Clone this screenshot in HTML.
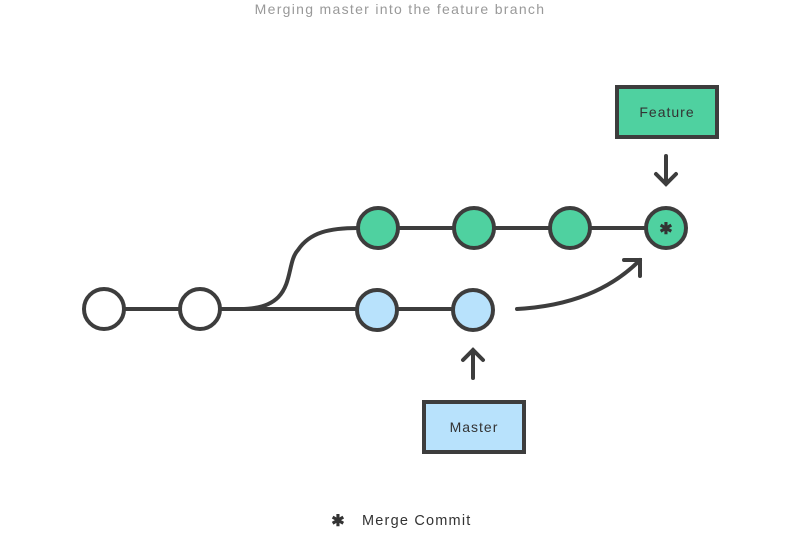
<!DOCTYPE html>
<html><head><style>body{margin:0;background:#fff}svg{display:block}</style></head><body>
<svg width="800" height="536" viewBox="0 0 800 536" xmlns="http://www.w3.org/2000/svg" font-family="Liberation Sans, sans-serif">
<text x="400" y="14" text-anchor="middle" font-size="14" letter-spacing="1.3" fill="#999">Merging master into the feature branch</text>
<g stroke="#3d3d3d" stroke-width="4" fill="none" stroke-linecap="round">
<line x1="104" y1="309" x2="473" y2="309"/>
<path d="M236 309 C300 311 283 266 298 250 C310 232 330 228 358 228"/>
<line x1="378" y1="228" x2="666" y2="228"/>
<path d="M517 309 C570 306 610 290 640 260"/>
<path d="M624 260 L640 260 L640 276"/>
<path d="M666 156 V184 M656 174 L666 184 L676 174"/>
<path d="M473 378 V350 M463 360 L473 350 L483 360"/>
</g>
<g stroke="#3d3d3d" stroke-width="4">
<circle cx="104" cy="309" r="20" fill="#fff"/>
<circle cx="200" cy="309" r="20" fill="#fff"/>
<circle cx="377" cy="310" r="20" fill="#b8e2fc"/>
<circle cx="473" cy="310" r="20" fill="#b8e2fc"/>
<circle cx="378" cy="228" r="20" fill="#4fd1a0"/>
<circle cx="474" cy="228" r="20" fill="#4fd1a0"/>
<circle cx="570" cy="228" r="20" fill="#4fd1a0"/>
<circle cx="666" cy="228" r="20" fill="#4fd1a0"/>
<rect x="617" y="87" width="100" height="50" fill="#4fd1a0"/>
<rect x="424" y="402" width="100" height="50" fill="#b8e2fc"/>
</g>
<text x="667" y="117" text-anchor="middle" font-size="14" letter-spacing="1" fill="#333">Feature</text>
<text x="474" y="432" text-anchor="middle" font-size="14" letter-spacing="1" fill="#333">Master</text>
<text x="666" y="234" text-anchor="middle" font-size="16" font-weight="bold" fill="#333">✱</text>
<text x="338" y="526" text-anchor="middle" font-size="16" font-weight="bold" fill="#333">✱</text>
<text x="362" y="525" font-size="14.5" letter-spacing="1.2" fill="#333">Merge Commit</text>
</svg>
</body></html>
